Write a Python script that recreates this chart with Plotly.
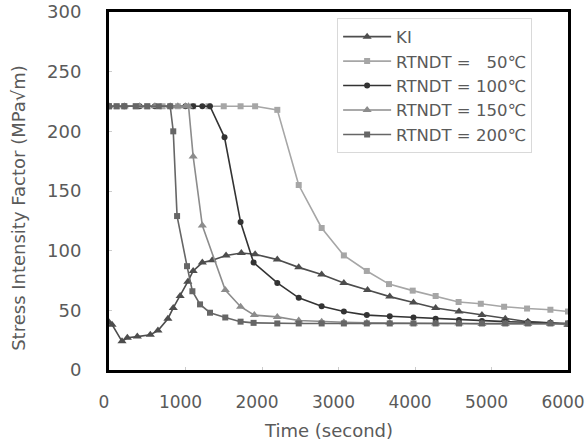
import plotly.graph_objects as go

# KI
ki_t = [0, 40, 170, 240, 370, 540, 640, 770, 840, 930, 1030, 1100, 1220, 1350, 1530, 1730, 1910,
        2200, 2480, 2780, 3070, 3380, 3670, 3980, 4270, 4575, 4875, 5180, 5475, 5770, 6000]
ki_v = [40, 38, 24, 27, 28, 29.5, 33, 43, 52, 62, 74, 83, 90, 92, 96, 98, 97,
        92.5, 86, 80, 73, 67, 61.5, 56.5, 52, 49, 46, 43, 40.5, 39.5, 38]

# RTNDT = 50
r50_t = [0, 100, 200, 350, 500, 700, 900, 1100, 1300, 1500, 1720, 1910, 2200, 2480, 2780,
         3070, 3370, 3660, 3970, 4270, 4570, 4860, 5165, 5465, 5770, 6000]
r50_v = [221, 221, 221, 221, 221, 221, 221, 221, 221, 221, 221, 221, 218, 155, 119,
         96, 83, 72, 66.5, 62, 57, 55.5, 53, 51.5, 50.5, 49]

# RTNDT = 100
r100_t = [0, 200, 400, 600, 800, 1000, 1100, 1220, 1320, 1510, 1720, 1890, 2200, 2480, 2780,
          3070, 3370, 3670, 3980, 4270, 4575, 4875, 5180, 5475, 5770, 6000]
r100_v = [221, 221, 221, 221, 221, 221, 221, 221, 221, 195, 124, 90, 73, 60.5, 53.5,
          49, 46, 45, 44, 43, 42, 41, 40.5, 40, 39.5, 39]

# RTNDT = 150
r150_t = [0, 200, 400, 600, 800, 900, 1000, 1040, 1100, 1220, 1520, 1720, 1900, 2200, 2480, 2780,
          3070, 3370, 3670, 3980, 4270, 4575, 4875, 5180, 5475, 5770, 6000]
r150_v = [221, 221, 221, 221, 221, 221, 221, 221, 179, 121, 67, 53, 46, 44.5, 41.5, 40.5,
          40, 39.5, 39.5, 39, 39, 39, 38.5, 38.5, 38.5, 38.5, 38.5]

# RTNDT = 200
r200_t = [0, 100, 200, 350, 500, 650, 800, 840, 890, 1020, 1090, 1190, 1320, 1520, 1720, 1890,
          2200, 2480, 2780, 3070, 3370, 3670, 3980, 4270, 4575, 4875, 5180, 5475, 5770, 6000]
r200_v = [221, 221, 221, 221, 221, 221, 221, 200, 129, 87, 66, 55, 48, 44, 40.5, 39.5,
          39, 39, 39, 39, 39, 39, 39, 39, 39, 39, 39, 39, 39, 39]

x_ticks = [0, 1000, 2000, 3000, 4000, 5000, 6000]
y_ticks = [0, 50, 100, 150, 200, 250, 300]

series = [
    ("KI", ki_t, ki_v, "#4d4d4d", "triangle-up", 8),
    ("RTNDT =   50℃", r50_t, r50_v, "#a6a6a6", "square", 6),
    ("RTNDT = 100℃", r100_t, r100_v, "#333333", "circle", 6),
    ("RTNDT = 150℃", r150_t, r150_v, "#8c8c8c", "triangle-up", 8),
    ("RTNDT = 200℃", r200_t, r200_v, "#666666", "square", 6),
]

fig = go.Figure()
for name, t, v, col, sym, ms in series:
    fig.add_trace(go.Scatter(
        x=t, y=v, name=name, mode="lines+markers",
        line=dict(color=col, width=1.6),
        marker=dict(color=col, symbol=sym, size=ms),
    ))

FONT = "DejaVu Sans, sans-serif"
TXT = "#5a5a5a"
fig.update_layout(
    width=586, height=444,
    margin=dict(l=109, r=18, t=12, b=74),
    paper_bgcolor="white", plot_bgcolor="white",
    font=dict(family=FONT, size=18, color=TXT),
    showlegend=True,
    legend=dict(
        x=0.497, y=0.982, xanchor="left", yanchor="top",
        bgcolor="white", bordercolor="#d9d9d9", borderwidth=1,
        font=dict(family=FONT, size=16.5, color=TXT),
        tracegroupgap=0, itemwidth=48,
    ),
    xaxis=dict(
        range=[0, 6000], tickvals=x_ticks,
        tickfont=dict(family=FONT, size=17, color=TXT),
        showgrid=False, zeroline=False, automargin=False,
        showline=True, linecolor="black", linewidth=3, mirror=True,
        ticks="inside", ticklen=3, tickcolor="#cccccc",
        ticklabelstandoff=15, ticklabelshift=-5, ticklabeloverflow="allow",
    ),
    yaxis=dict(
        range=[0, 300], tickvals=y_ticks,
        showgrid=False, zeroline=False, automargin=False,
        showline=True, linecolor="black", linewidth=3, mirror=True,
        ticks="inside", ticklen=3, tickcolor="#cccccc",
        ticklabelstandoff=21, ticklabeloverflow="allow",
    ),
    annotations=[
        dict(text="Stress Intensity Factor (MPa√m)", xref="paper", yref="paper",
             x=-0.1987, y=0.4525, xanchor="center", yanchor="middle", textangle=-90,
             showarrow=False, font=dict(family=FONT, size=18, color=TXT)),
        dict(text="Time (second)", xref="paper", yref="paper",
             x=0.478, y=-0.2040, xanchor="center", yanchor="bottom",
             showarrow=False, font=dict(family=FONT, size=18, color=TXT)),
    ],
)

fig.write_html("out.html")
